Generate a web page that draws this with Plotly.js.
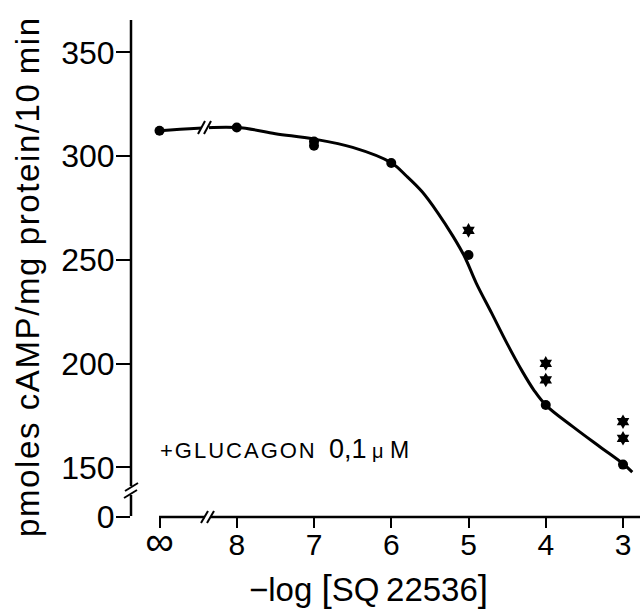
<!DOCTYPE html>
<html>
<head>
<meta charset="utf-8">
<script src="https://cdn.plot.ly/plotly-3.0.1.min.js"></script>
<style>
html,body{margin:0;padding:0;background:#fff;}
#chart{width:640px;height:610px;}
</style>
</head>
<body>
<div id="chart"></div>
<script>
// ---- data ----
// x position: -log[SQ 22536]; "∞" (no inhibitor) placed one step left of 8
const xTickVals = [9, 8, 7, 6, 5, 4, 3];
const xTickText = ['<span style="font-size:40px">∞</span>', '8', '7', '6', '5', '4', '3'];
// y axis: broken axis, bottom end labelled 0
const yTickVals = [126.05, 150, 200, 250, 300, 350];
const yTickText = ['0', '150', '200', '250', '300', '350'];

// filled circles
const circleX = [9, 8, 7, 7, 6, 5, 4, 3];
const circleY = [312.2, 313.8, 307, 305, 296.7, 252.3, 180, 151.3];
// star symbols
const starX = [5, 4, 4, 3, 3];
const starY = [264.2, 200.1, 192.1, 172, 164];
// fitted curve
const curveX = [9, 8, 7.5, 7, 6.5, 6, 5.8, 5.6, 5.4, 5.2, 5.05, 4.9, 4.7, 4.5, 4.3, 4.15, 4, 3.65, 3.3, 3, 2.88];
const curveY = [312.2, 313.8, 310.8, 308.2, 304.2, 296.8, 290.3, 282.8, 272.8, 261.3, 251.5, 238.8, 224.3, 209.6, 196, 187, 180, 169.6, 159.9, 151.7, 147.7];

// ---- layout helpers (pixel -> paper) ----
const L = 131, R = 640, T = 20, B = 517;
const px = v => (v - L) / (R - L);
const py = v => (B - v) / (B - T);
const FONT = 'Liberation Sans, Arial, Helvetica, sans-serif';

function seg(x0, y0, x1, y1, w) {
  return {type: 'line', xref: 'paper', yref: 'paper', x0: px(x0), y0: py(y0), x1: px(x1), y1: py(y1),
          line: {color: '#000', width: w || 2.5}, layer: 'above'};
}

const shapes = [
  // y axis with break
  seg(131, 20, 131, 486),
  seg(131, 495, 131, 516),
  seg(125, 491, 138, 483, 2),
  seg(124, 498, 137, 490, 2),
  // x axis with break
  seg(159, 517, 205, 517),
  seg(211, 517, 640, 517),
  seg(201, 523, 208, 511, 2),
  seg(207, 523, 214, 511, 2),
  // break on the curve between ∞ and 8
  {type: 'rect', xref: 'paper', yref: 'paper', x0: px(201), x1: px(209), y0: py(135), y1: py(123),
   fillcolor: '#fff', line: {width: 0}, layer: 'above'},
  seg(198, 134, 205, 121, 2),
  seg(204, 134, 211, 121, 2)
];

const traces = [
  {x: curveX, y: curveY, mode: 'lines', type: 'scatter',
   line: {color: '#000', width: 3, shape: 'spline', smoothing: 1}, hoverinfo: 'skip'},
  {x: circleX, y: circleY, mode: 'markers', type: 'scatter',
   marker: {symbol: 'circle', size: 10, color: '#000'}},
  {x: starX, y: starY, mode: 'markers', type: 'scatter',
   marker: {symbol: 'hexagram', size: 11, color: '#000'}}
];

const layout = {
  width: 640, height: 610,
  margin: {l: L, r: 640 - R, t: T, b: 610 - B, pad: 0},
  paper_bgcolor: '#fff', plot_bgcolor: '#fff',
  showlegend: false,
  font: {family: FONT, color: '#000'},
  xaxis: {
    range: [9.369, 2.78], tickmode: 'array', tickvals: xTickVals, ticktext: xTickText,
    ticks: 'outside', ticklen: 10, tickwidth: 2, tickcolor: '#000',
    showline: false, showgrid: false, zeroline: false,
    tickfont: {family: FONT, size: 30, color: '#000'}, ticklabelstandoff: -9
  },
  yaxis: {
    range: [126.05, 365.6], tickmode: 'array', tickvals: yTickVals, ticktext: yTickText,
    ticks: 'outside', ticklen: 14, tickwidth: 2, tickcolor: '#000',
    showline: false, showgrid: false, zeroline: false,
    tickfont: {family: FONT, size: 32, color: '#000'}, ticklabelstandoff: -5
  },
  shapes: shapes,
  annotations: [
    {xref: 'paper', yref: 'paper', x: px(27), y: py(277), xanchor: 'center', yanchor: 'middle',
     textangle: -90, showarrow: false,
     text: '<span style="letter-spacing:1.6px">pmoles cAMP/mg protein/10\u2009min</span>',
     font: {family: FONT, size: 33, color: '#000'}},
    {xref: 'paper', yref: 'paper', x: px(368), y: py(588), xanchor: 'center', yanchor: 'middle',
     showarrow: false,
     text: '\u2212log <span style="font-size:37px">[</span>SQ\u200922536<span style="font-size:37px">]</span>',
     font: {family: FONT, size: 33, color: '#000'}},
    {xref: 'paper', yref: 'paper', x: px(158), y: py(449), xanchor: 'left', yanchor: 'middle',
     showarrow: false,
     text: '<span style="letter-spacing:2px">+GLUCAGON</span>\u00a0\u00a0<span style="font-size:27px">0,1</span><span style="font-size:20px">\u00a0\u03bc</span><span style="font-size:23px">\u00a0M</span>',
     font: {family: FONT, size: 22, color: '#000'}}
  ]
};

Plotly.newPlot('chart', traces, layout, {staticPlot: true, displayModeBar: false});
</script>
</body>
</html>
